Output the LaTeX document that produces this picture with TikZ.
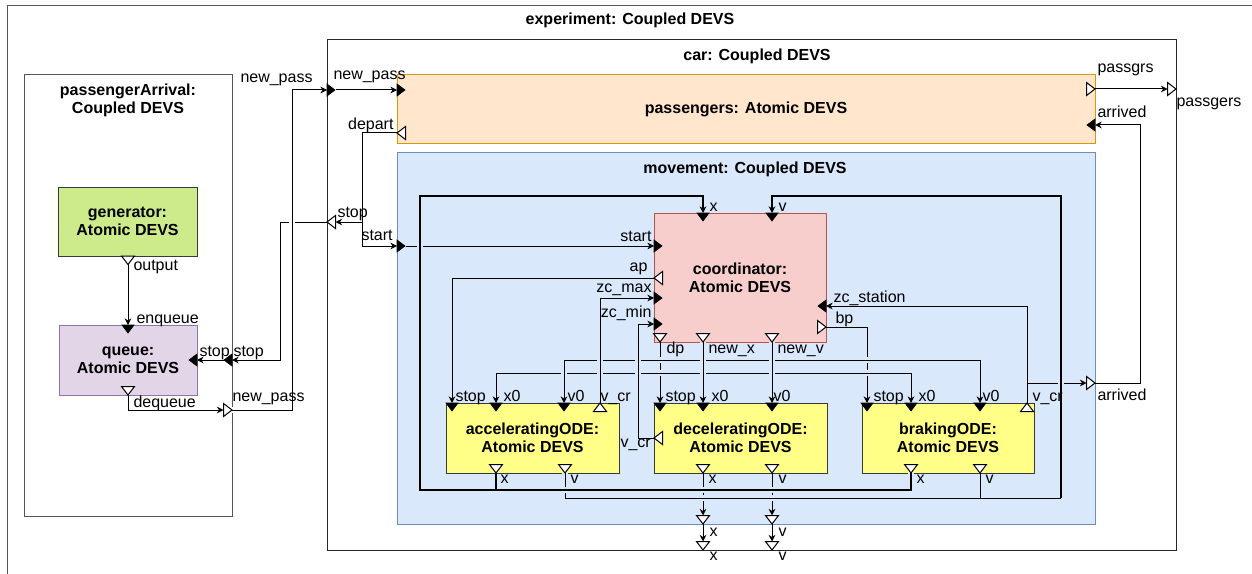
\documentclass[tikz,border=0pt]{standalone}
\usepackage{fontspec}
\setmainfont{Liberation Sans}
\usetikzlibrary{arrows.meta}
\definecolor{gfill}{HTML}{CDEB8B}
\definecolor{gdraw}{HTML}{36393D}
\definecolor{pfill}{HTML}{E1D5E7}
\definecolor{pdraw}{HTML}{9673A6}
\definecolor{ofill}{HTML}{FFE6CC}
\definecolor{odraw}{HTML}{D79B00}
\definecolor{bfill}{HTML}{DAE8FC}
\definecolor{bdraw}{HTML}{6C8EBF}
\definecolor{rfill}{HTML}{F8CECC}
\definecolor{rdraw}{HTML}{B85450}
\definecolor{yfill}{HTML}{FFFF88}
\definecolor{fgray}{HTML}{555555}
\begin{document}
\begin{tikzpicture}[x=0.75pt,y=-0.75pt,line width=0.75pt,
  font=\fontsize{12}{13.5}\selectfont,
  sz/.style 2 args={minimum width=#1*0.75pt, minimum height=#2*0.75pt},
  box/.style={draw, rectangle, inner sep=0pt, outer sep=0pt, align=center,
    font=\fontsize{12}{13.5}\selectfont\bfseries},
  frm/.style={draw, rectangle, inner sep=0pt, outer sep=0pt, anchor=north west},
  ttl/.style={inner sep=0pt, anchor=base, font=\fontsize{12}{13.5}\selectfont\bfseries},
  lw/.style={inner sep=0pt, anchor=base west},
  le/.style={inner sep=0pt, anchor=base east},
  wire/.style={draw=black, line width=0.75pt, -{Stealth[length=5pt,width=5pt]}},
  thk/.style={wire, line width=1.5pt},
  jmp/.style={preaction={draw=bfill, line width=4.5pt, arrows=-}},
  jmpw/.style={preaction={draw=white, line width=4.5pt, arrows=-}},
  pics/inport/.style={code={\filldraw[black, line width=0.5pt] (0,-6) -- (8,0) -- (0,6) -- cycle;}},
  pics/outport/.style={code={\filldraw[draw=black, fill=white, line width=0.75pt] (0,-6.5) -- (8.5,0) -- (0,6.5) -- cycle;}},
]
\useasboundingbox (0,0) rectangle (1252,574);

% ---------- containers ----------
\node[frm, draw=fgray, sz={1260}{590}] (exp) at (7,6) {};
\node[frm, draw=fgray, sz={208}{441}] (pA) at (24,75) {};
\node[frm, draw=black!85, sz={849}{510}] (car) at (327,40) {};
\node[box, fill=ofill, draw=odraw, sz={698}{69}] (pass) at (746,109.5) {passengers: Atomic DEVS};
\node[box, fill=bfill, draw=bdraw, sz={698}{371}] (move) at (746,338.5) {};

% ---------- atomic boxes ----------
\node[box, fill=gfill, draw=gdraw, sz={139}{69}] (gen) at (127.5,221.5) {generator:\\Atomic DEVS};
\node[box, fill=pfill, draw=pdraw, sz={138}{70}] (queue) at (128,360) {queue:\\Atomic DEVS};
\node[box, fill=rfill, draw=rdraw, sz={172}{129}] (coord) at (740,277.5) {coordinator:\\Atomic DEVS};
\node[box, fill=yfill, draw=gdraw, sz={173}{70}] (acc) at (532.5,438) {acceleratingODE:\\Atomic DEVS};
\node[box, fill=yfill, draw=gdraw, sz={173}{70}] (dec) at (740.5,438) {deceleratingODE:\\Atomic DEVS};
\node[box, fill=yfill, draw=gdraw, sz={172}{70}] (brk) at (948,438) {brakingODE:\\Atomic DEVS};

% ---------- titles ----------
\node[ttl] (t-exp) at (630,25) {experiment: Coupled DEVS};
\node[ttl] (t-car) at (757,61) {car: Coupled DEVS};
\node[ttl] (t-pa1) at (128,96) {passengerArrival:};
\node[ttl] (t-pa2) at (128,114) {Coupled DEVS};
\node[ttl] (t-mov) at (745,173) {movement: Coupled DEVS};

% ---------- port points ----------
\coordinate (gen-o) at (128,256);
\coordinate (q-enq) at (128,325);
\coordinate (q-deq) at (128,395);
\coordinate (q-stop) at (197,360);
\coordinate (pA-stop-o) at (232,360);
\coordinate (pA-stop-i) at (223.5,360);
\coordinate (pA-np-b) at (223.5,410);
\coordinate (pA-np-t) at (232,410);
\coordinate (car-np-b) at (327,90);
\coordinate (car-np-t) at (335.5,90);
\coordinate (car-st-b) at (335.5,222);
\coordinate (car-st-t) at (327,222);
\coordinate (car-pg-b) at (1167.5,89);
\coordinate (car-x-b) at (703,541.5);
\coordinate (car-v-b) at (772,541.5);
\coordinate (p-np) at (397,90);
\coordinate (p-dep) at (397,133);
\coordinate (p-pg) at (1095,89);
\coordinate (p-arr) at (1095,125);
\coordinate (m-st-b) at (397,246);
\coordinate (m-st-t) at (405.5,246);
\coordinate (m-arr-b) at (1086.5,383);
\coordinate (m-arr-t) at (1095,383);
\coordinate (m-x-b) at (703,515.5);
\coordinate (m-x-t) at (703,524);
\coordinate (m-v-b) at (772,515.5);
\coordinate (m-v-t) at (772,524);
\coordinate (c-x) at (703,213);
\coordinate (c-v) at (772,213);
\coordinate (c-st) at (654,246);
\coordinate (c-ap) at (654,278);
\coordinate (c-zmax) at (654,298);
\coordinate (c-zmin) at (654,324);
\coordinate (c-dp) at (660,342);
\coordinate (c-nx) at (703,342);
\coordinate (c-nv) at (772,342);
\coordinate (c-zst) at (826,306);
\coordinate (c-bp) at (826,327);
\coordinate (a-stop) at (452,403);
\coordinate (a-x0) at (496,403);
\coordinate (a-v0) at (564,403);
\coordinate (a-vcr) at (600,403);
\coordinate (a-x) at (496,473);
\coordinate (a-v) at (565,473);
\coordinate (d-stop) at (660,403);
\coordinate (d-x0) at (703,403);
\coordinate (d-v0) at (772,403);
\coordinate (d-vcr) at (654,438);
\coordinate (d-x) at (703,473);
\coordinate (d-v) at (772,473);
\coordinate (b-stop) at (867,403);
\coordinate (b-x0) at (911,403);
\coordinate (b-v0) at (980,403);
\coordinate (b-vcr) at (1027,403);
\coordinate (b-x) at (911,473);
\coordinate (b-v) at (980,473);
\coordinate (nx-j) at (703,373);
\coordinate (nv-j) at (772,360);
\coordinate (dep-j) at (362,222);
\coordinate (vcr-j) at (1027,383);

% ---------- wires: passengerArrival ----------
\draw[wire] (gen-o) -- (q-enq);
\draw[wire] (q-deq) |- (pA-np-b);
\draw[wire] (pA-stop-i) -- (q-stop);
\draw[wire] (car-st-t) -- (280,222) |- (pA-stop-o);
\draw[wire, jmpw] (pA-np-t) -- (292,410) -- (292,90) -- (car-np-b);

% ---------- wires: car ----------
\draw[wire] (car-np-t) -- (p-np);
\draw[wire] (p-dep) -| (362,246) -- (m-st-b);
\draw[wire] (dep-j) -- (car-st-b);
\draw[wire] (p-pg) -- (car-pg-b);
\draw[wire] (m-arr-t) -- (1140,383) |- (p-arr);
\draw[wire] (m-x-t) -- (car-x-b);
\draw[wire] (m-v-t) -- (car-v-b);

% ---------- wires: movement ----------
\draw[wire] (c-dp) -- (d-stop);
\draw[wire] (c-bp) -| (b-stop);
\draw[wire, jmp] (nx-j) -| (a-x0);
\draw[wire, jmp] (nx-j) -| (b-x0);
\draw[wire, jmp] (nv-j) -| (a-v0);
\draw[wire, jmp] (nv-j) -| (b-v0);
\draw[wire, jmp] (a-vcr) |- (c-zmax);
\draw[wire, jmp] (d-vcr) -- (638,438) |- (c-zmin);
\draw[wire, jmp] (c-nx) -- (d-x0);
\draw[wire, jmp] (c-nv) -- (d-v0);
\draw[wire] (c-ap) -| (a-stop);
\draw[wire] (b-vcr) |- (c-zst);
\draw[wire] (vcr-j) -- (m-arr-b);
\draw[wire] (d-x) -- (m-x-b);
\draw[wire] (d-v) -- (m-v-b);
\draw[wire] (m-st-t) -- (c-st);
% v loop
\draw[wire, jmp, -] (a-v) |- (1061,498);
\draw[wire, -] (b-v) -- (980,498);
\draw[thk, jmp] (1061,498) -- (1061,196) -| (c-v);
% x loop
\draw[thk, jmp] (b-x) |- (420,490) -- (420,196) -| (c-x);
\draw[thk, -] (a-x) -- (496,490);

% ---------- ports ----------
\pic[rotate=-90] at (gen-o) {outport};
\pic[rotate=-90] at (128,386.5) {outport};
\pic[rotate=-90] at (q-enq) {inport};
\pic[rotate=180] at (q-stop) {inport};
\pic[rotate=180] at (pA-stop-o) {inport};
\pic at (pA-np-b) {outport};
\pic at (car-np-b) {inport};
\pic[rotate=180] at (car-st-b) {outport};
\pic at (car-pg-b) {outport};
\pic[rotate=-90] at (car-x-b) {outport};
\pic[rotate=-90] at (car-v-b) {outport};
\pic at (p-np) {inport};
\pic[rotate=180] at (405.5,133) {outport};
\pic at (1086.5,89) {outport};
\pic[rotate=180] at (p-arr) {inport};
\pic at (m-st-b) {inport};
\pic at (m-arr-b) {outport};
\pic[rotate=-90] at (m-x-b) {outport};
\pic[rotate=-90] at (m-v-b) {outport};
\pic[rotate=-90] at (c-x) {inport};
\pic[rotate=-90] at (c-v) {inport};
\pic at (c-st) {inport};
\pic[rotate=180] at (662.5,278) {outport};
\pic at (c-zmax) {inport};
\pic at (c-zmin) {inport};
\pic[rotate=-90] at (660,333.5) {outport};
\pic[rotate=-90] at (703,333.5) {outport};
\pic[rotate=-90] at (772,333.5) {outport};
\pic[rotate=180] at (c-zst) {inport};
\pic at (817.5,327) {outport};
\pic[rotate=-90] at (a-stop) {inport};
\pic[rotate=-90] at (a-x0) {inport};
\pic[rotate=-90] at (a-v0) {inport};
\pic[rotate=90] at (600,411.5) {outport};
\pic[rotate=-90] at (496,464.5) {outport};
\pic[rotate=-90] at (565,464.5) {outport};
\pic[rotate=-90] at (d-stop) {inport};
\pic[rotate=-90] at (d-x0) {inport};
\pic[rotate=-90] at (d-v0) {inport};
\pic[rotate=180] at (662.5,438) {outport};
\pic[rotate=-90] at (703,464.5) {outport};
\pic[rotate=-90] at (772,464.5) {outport};
\pic[rotate=-90] at (b-stop) {inport};
\pic[rotate=-90] at (b-x0) {inport};
\pic[rotate=-90] at (b-v0) {inport};
\pic[rotate=90] at (1027,411.5) {outport};
\pic[rotate=-90] at (911,464.5) {outport};
\pic[rotate=-90] at (980,464.5) {outport};

% ---------- port labels ----------
\node[lw] (l1) at (240,83) {new\_pass};
\node[lw] (l2) at (333,80) {new\_pass};
\node[le] (l3) at (394,130) {depart};
\node[lw] (l4) at (337,217) {stop};
\node[lw] (l5) at (361,240) {start};
\node[lw] (l6) at (133,270) {output};
\node[lw] (l7) at (136,323) {enqueue};
\node[lw] (l8) at (199,356) {stop};
\node[lw] (l9) at (233,356) {stop};
\node[lw] (l10) at (232,401) {new\_pass};
\node[lw] (l11) at (133,407) {dequeue};
\node[lw] (l12) at (1097,73) {passgrs};
\node[lw] (l13) at (1097,118) {arrived};
\node[lw] (l14) at (1176,107) {passgers};
\node[lw] (l15) at (1097,400) {arrived};
\node[lw] (l16) at (709,211) {x};
\node[lw] (l17) at (778,211) {v};
\node[le] (l18) at (652,241) {start};
\node[le] (l19) at (648,271) {ap};
\node[le] (l20) at (652,292) {zc\_max};
\node[le] (l21) at (652,317) {zc\_min};
\node[lw] (l22) at (666,353) {dp};
\node[lw] (l23) at (708,353) {new\_x};
\node[lw] (l24) at (777,353) {new\_v};
\node[lw] (l25) at (833,302) {zc\_station};
\node[lw] (l26) at (835,323) {bp};
\node[lw] (l27) at (455,401) {stop};
\node[lw] (l28) at (503,401) {x0};
\node[lw] (l29) at (567,401) {v0};
\node[lw] (l30) at (600,401) {v\_cr};
\node[lw] (l31) at (665,401) {stop};
\node[lw] (l32) at (711,401) {x0};
\node[lw] (l33) at (773,401) {v0};
\node[lw] (l34) at (873,401) {stop};
\node[lw] (l35) at (918,401) {x0};
\node[lw] (l36) at (982,401) {v0};
\node[lw] (l37) at (1032,401) {v\_cr};
\node[lw] (l38) at (620,447) {v\_cr};
\node[lw] (l39) at (500,483) {x};
\node[lw] (l40) at (570,483) {v};
\node[lw] (l41) at (708,483) {x};
\node[lw] (l42) at (778,483) {v};
\node[lw] (l43) at (916,483) {x};
\node[lw] (l44) at (985,483) {v};
\node[lw] (l45) at (709,536) {x};
\node[lw] (l46) at (778,536) {v};
\node[lw] (l47) at (709,560) {x};
\node[lw] (l48) at (778,560) {v};
\end{tikzpicture}
\end{document}
